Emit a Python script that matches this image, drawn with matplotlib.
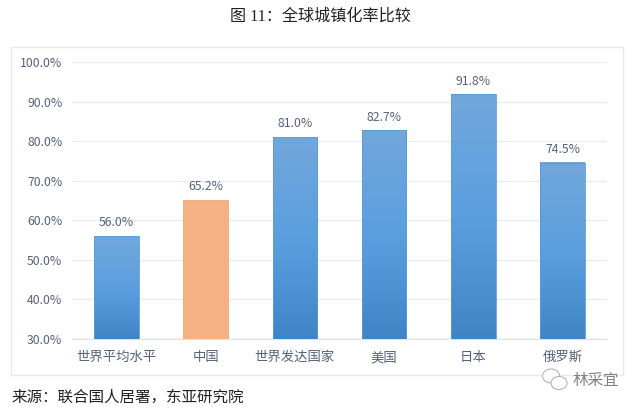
import numpy as np
import matplotlib
matplotlib.use("Agg")
import matplotlib.pyplot as plt
from matplotlib.colors import LinearSegmentedColormap
from matplotlib.patches import Rectangle, Ellipse

CATEGORIES = ["世界平均水平", "中国", "世界发达国家", "美国", "日本", "俄罗斯"]
VALUES = [56.0, 65.2, 81.0, 82.7, 91.8, 74.5]
YTICKS = [30, 40, 50, 60, 70, 80, 90, 100]
HIGHLIGHT = "中国"

W, H = 640, 408
SANS = ["Noto Sans CJK SC", "DejaVu Sans"]
SERIF = ["Liberation Serif", "Noto Sans CJK SC"]
TEXT = "#56627a"
GRID = "#e9ebf2"
BLUES = LinearSegmentedColormap.from_list("bar", ["#72a7db", "#5b9fdf", "#3f85c6"])


def main():
    fig = plt.figure(figsize=(W / 100, H / 100), dpi=100, facecolor="white")

    # Outer chart frame, kept behind the axes
    fig.add_artist(Rectangle((10.5 / W, 1 - 375 / H), 612.5 / W, 328 / H, transform=fig.transFigure,
                             facecolor="white", edgecolor="#e8eaf0", linewidth=1.0, zorder=-1))

    ax = fig.add_axes([72 / W, 1 - 339 / H, 535 / W, 277 / H])
    ax.patch.set_alpha(0)
    ax.set_xlim(-0.5, 5.5)
    ax.set_ylim(30, 100)
    ax.set_axisbelow(True)
    ax.grid(axis="y", color=GRID, linewidth=1.0)
    for name, spine in ax.spines.items():
        spine.set_visible(name == "bottom")
    ax.spines["bottom"].set_color("#dfe2ea")
    ax.tick_params(length=0)
    ax.tick_params(axis="x", pad=8)
    ax.tick_params(axis="y", pad=7)

    x = np.arange(len(CATEGORIES))
    bars = ax.bar(x, VALUES, width=0.5, bottom=0, color="none", zorder=3)
    grad = np.linspace(0, 1, 256).reshape(-1, 1)
    for xi, val, cat, bar in zip(x, VALUES, CATEGORIES, bars):
        if cat == HIGHLIGHT:
            bar.set_facecolor("#f4b183")
            bar.set_edgecolor("#f0a878")
            bar.set_linewidth(0.6)
        else:
            bar.set_edgecolor("#5b9bd5")
            bar.set_linewidth(0.6)
            ax.imshow(grad, cmap=BLUES, aspect="auto", zorder=2.9, extent=(xi - 0.25, xi + 0.25, 30, val))
        ax.text(xi, val + 1.7, f"{val:.1f}%", ha="center", va="bottom", color=TEXT, fontsize=8.8, family=SANS)
    ax.set_xlim(-0.5, 5.5)
    ax.set_ylim(30, 100)

    ax.set_xticks(x, CATEGORIES, fontsize=9.6, color=TEXT, family=SANS)
    ax.set_yticks(YTICKS, [f"{v:.1f}%" for v in YTICKS], fontsize=8.8, color=TEXT, family=SANS)

    fig.text(320 / W, 1 - 17 / H, "图 11：全球城镇化率比较", ha="center", va="center",
             fontsize=11.6, color="#222222", family=SERIF)
    fig.text(11 / W, 1 - 398 / H, "来源：联合国人居署，东亚研究院", ha="left", va="center",
             fontsize=11.2, color="#222222", family=SERIF)

    # Watermark
    for cx, cy, w, h in [(551, 376, 17, 14), (559, 383, 16, 13)]:
        fig.add_artist(Ellipse((cx / W, 1 - cy / H), w / W, h / H, transform=fig.transFigure,
                               facecolor="white", edgecolor="#b5b5b5", linewidth=0.8))
    fig.text(573 / W, 1 - 381 / H, "林采宜", ha="left", va="center", fontsize=11.2, color="#808080", family=SANS)

    fig.savefig("out.png", dpi=100, facecolor="white")
    plt.close(fig)


if __name__ == "__main__":
    main()
